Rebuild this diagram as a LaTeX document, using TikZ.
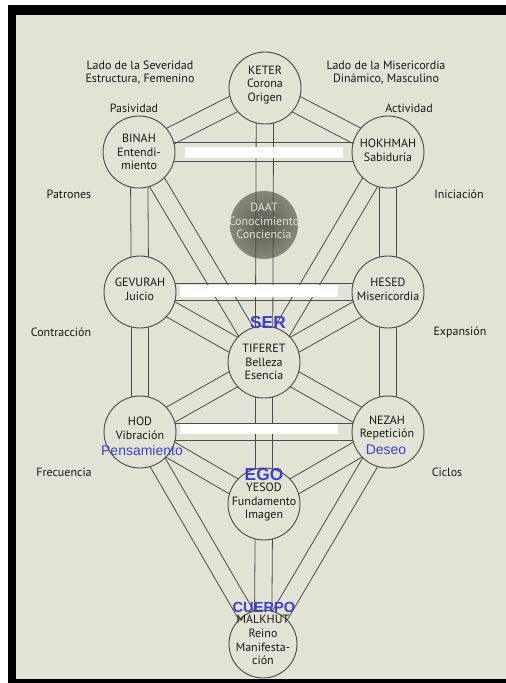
\documentclass[tikz,border=0pt]{standalone}
\usepackage{fontspec}
\setmainfont{PT Sans}
\newfontfamily\arialf{Liberation Sans}
\newfontfamily\arialb{Liberation Sans Bold}
\usetikzlibrary{calc}
\definecolor{bgc}{RGB}{226,227,212}
\definecolor{lnc}{RGB}{75,75,75}
\definecolor{blc}{RGB}{64,64,206}
\definecolor{daatin}{RGB}{92,92,84}
\definecolor{daatout}{RGB}{135,135,122}
\definecolor{daattx}{RGB}{225,225,205}
\definecolor{txc}{RGB}{25,25,25}
\pgfdeclarelayer{bgfill}
\pgfdeclarelayer{lines}
\pgfsetlayers{bgfill,lines,main}
\newcommand\chan[3]{%
 \draw[pathline] ($(#1.center)!#3!90:(#2.center)$) -- ($(#2.center)!#3!-90:(#1.center)$);
 \draw[pathline] ($(#1.center)!#3!-90:(#2.center)$) -- ($(#2.center)!#3!90:(#1.center)$);}
\begin{document}
\begin{tikzpicture}[x=0.75pt,y=-0.75pt,
 pathline/.style={draw=lnc,line width=0.6pt},
 sef/.style={circle,draw=lnc,line width=0.7pt,fill=bgc,minimum size=54pt,inner sep=0pt},
 txt/.style={align=center,font=\fontsize{9}{10.2}\selectfont,text=txc,inner sep=0pt},
 side/.style={align=center,font=\fontsize{9}{9.8}\selectfont,text=txc,inner sep=0pt},
 bluelbl/.style={text=blc,inner sep=0pt,font=\arialf\fontsize{10.5}{12}\selectfont},
 bigblue/.style={text=blc,inner sep=0pt,font=\arialb\fontsize{13}{14}\selectfont},
 whitebox/.style={fill=white,draw=none}]
\useasboundingbox (0,0) rectangle (506,683);
\begin{pgfonlayer}{bgfill}
 \fill[white] (0,0) rectangle (506,683);
 \fill[black] (8,5) rectangle (506,683);
 \fill[bgc] (16,15) rectangle (506,679);
 \node[circle,minimum size=51pt,inner sep=0pt,shading=radial,inner color=daatin,outer color=daatout] (daat) at (264,225) {};
\end{pgfonlayer}
% sefirot
\node[sef] (keter) at (265,88) {};
\node[sef] (binah) at (139,152) {};
\node[sef] (hokhmah) at (388,152) {};
\node[sef] (gevurah) at (140,292) {};
\node[sef] (hesed) at (388,292) {};
\node[sef] (tiferet) at (264,362) {};
\node[sef] (hod) at (140,432) {};
\node[sef] (nezah) at (388,432) {};
\node[sef] (yesod) at (264,504) {};
\node[sef,minimum size=51pt] (malkhut) at (263,644) {};
\begin{pgfonlayer}{lines}
 \chan{keter}{binah}{6.5pt}
 \chan{keter}{hokhmah}{6.5pt}
 \chan{keter}{tiferet}{6.5pt}
 \chan{binah}{hokhmah}{7pt}
 \chan{binah}{gevurah}{6.5pt}
 \chan{binah}{tiferet}{6.5pt}
 \chan{hokhmah}{hesed}{6.5pt}
 \chan{hokhmah}{tiferet}{6.5pt}
 \chan{gevurah}{hesed}{6.5pt}
 \chan{gevurah}{tiferet}{6.5pt}
 \chan{gevurah}{hod}{6.5pt}
 \chan{hesed}{tiferet}{6.5pt}
 \chan{hesed}{nezah}{6.5pt}
 \chan{tiferet}{hod}{6.5pt}
 \chan{tiferet}{nezah}{6.5pt}
 \chan{tiferet}{yesod}{6.5pt}
 \chan{hod}{nezah}{6.5pt}
 \chan{hod}{yesod}{6.5pt}
 \chan{hod}{malkhut}{6.5pt}
 \chan{nezah}{yesod}{6.5pt}
 \chan{nezah}{malkhut}{6.5pt}
 \chan{yesod}{malkhut}{6.5pt}
 \fill[whitebox] (185,147) rectangle (343,158);
 \fill[whitebox] (180,285) rectangle (338,297);
 \fill[whitebox] (180,424) rectangle (338,434);
\end{pgfonlayer}
% texts in circles
\node[txt] (keterT) at (265,85) {KETER\\Corona\\Origen};
\node[txt] (binahT) at (139,152) {BINAH\\Entendi-\\miento};
\node[txt] (hokhmahT) at (388,150) {HOKHMAH\\Sabiduría};
\node[txt,text=daattx] (daatT) at (264,221) {DAAT\\Conocimiento\\Conciencia};
\node[txt] (gevurahT) at (140,289) {GEVURAH\\Juicio};
\node[txt] (hesedT) at (388,289) {HESED\\Misericordia};
\node[txt] (tiferetT) at (264,362) {TIFERET\\Belleza\\Esencia};
\node[txt] (hodT) at (140,428) {HOD\\Vibración};
\node[txt] (nezahT) at (387,428) {NEZAH\\Repetición};
\node[txt] (yesodT) at (264,502) {YESOD\\Fundamento\\Imagen};
\node[txt] (malkhutT) at (263,640) {MALKHUT\\Reino\\Manifesta-\\ción};
% blue labels
\node[bluelbl] (pens) at (142,450) {Pensamiento};
\node[bluelbl] (deseo) at (386,450) {Deseo};
\node[bigblue] (ser) at (268,323) {SER};
\node[bigblue] (ego) at (264,475) {EGO};
\node[bigblue,font=\arialb\fontsize{11}{12}\selectfont] (cuerpo) at (264,607) {CUERPO};
% side labels
\node[side] (sev) at (140,73) {Lado de la Severidad\\Estructura, Femenino};
\node[side] (mis) at (386,73) {Lado de la Misericordia\\Dinámico, Masculino};
\node[side] (pas) at (134,108) {Pasividad};
\node[side] (act) at (409,108) {Actividad};
\node[side] (pat) at (69,194) {Patrones};
\node[side] (ini) at (459,194) {Iniciación};
\node[side] (con) at (61,332) {Contracción};
\node[side] (exp) at (460,332) {Expansión};
\node[side] (fre) at (64,472) {Frecuencia};
\node[side] (cic) at (447,472) {Ciclos};
\end{tikzpicture}
\end{document}
